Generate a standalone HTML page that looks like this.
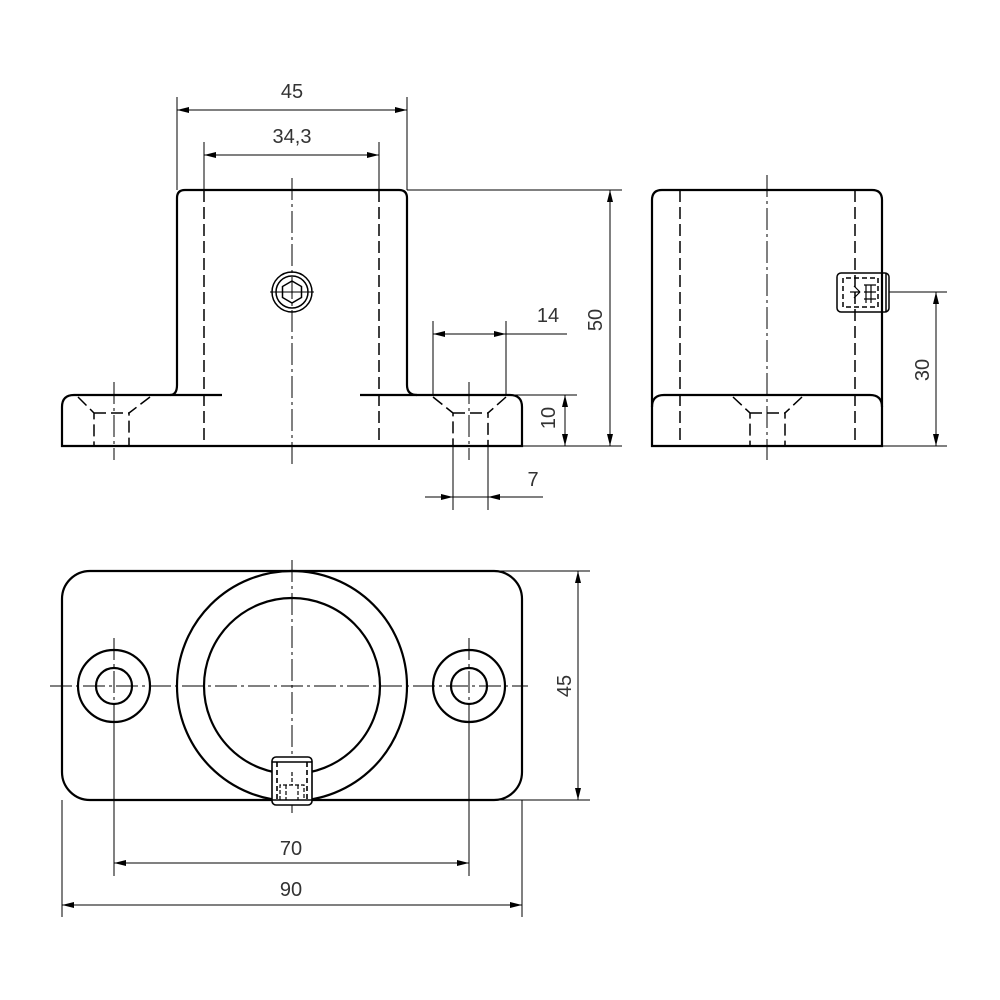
<!DOCTYPE html>
<html><head><meta charset="utf-8"><style>
html,body{margin:0;padding:0;background:#fff}
svg{display:block}
text{font-family:"Liberation Sans",sans-serif;font-size:20px;fill:#333}
</style></head><body>
<svg width="1000" height="1000" viewBox="0 0 1000 1000" xmlns="http://www.w3.org/2000/svg">
<defs>
<marker id="a" viewBox="0 0 12 6" refX="12" refY="3" markerWidth="12" markerHeight="6" orient="auto-start-reverse" markerUnits="userSpaceOnUse"><path d="M0,0 L12,3 L0,6z" fill="#000"/></marker>
</defs>
<g fill="none" stroke="#000">
<g stroke-width="2.2">
<path d="M62,446 V407 Q62,395 74,395 H170 Q177,395 177,385 V198 Q177,190 185,190 H399 Q407,190 407,198 V385 Q407,395 417,395 H510 Q522,395 522,407 V446 Z"/>
<line x1="170" y1="395" x2="222" y2="395"/>
<line x1="360" y1="395" x2="417" y2="395"/>
</g>
<g stroke-width="1.5" stroke-dasharray="12,5">
<line x1="204" y1="190" x2="204" y2="446"/>
<line x1="379" y1="190" x2="379" y2="446"/>
<path d="M78,397 L94,413 V446 M150,397 L129,413 V446 M94,413 H129"/>
<path d="M433,397 L453,413 V446 M506,397 L488,413 V446 M453,413 H488"/>
</g>
<g stroke-width="1" stroke-dasharray="22,4,3,4">
<line x1="292" y1="178" x2="292" y2="465"/>
<line x1="114" y1="382" x2="114" y2="460"/>
<line x1="469" y1="382" x2="469" y2="460"/>
</g>
<g stroke-width="1.5">
<circle cx="292" cy="292" r="20"/><circle cx="292" cy="292" r="16"/>
<path d="M292,281 L301.5,286.5 V297.5 L292,303 L282.5,297.5 V286.5Z"/>
<line x1="270" y1="292" x2="314" y2="292" stroke-width="1"/>
</g>
<g stroke-width="1">
<line x1="177" y1="97" x2="177" y2="190"/><line x1="407" y1="97" x2="407" y2="190"/>
<line x1="177" y1="110" x2="407" y2="110" marker-start="url(#a)" marker-end="url(#a)"/>
<line x1="204" y1="142" x2="204" y2="190"/><line x1="379" y1="142" x2="379" y2="190"/>
<line x1="204" y1="155" x2="379" y2="155" marker-start="url(#a)" marker-end="url(#a)"/>
<line x1="433" y1="321" x2="433" y2="395"/><line x1="506" y1="321" x2="506" y2="395"/>
<line x1="433" y1="334" x2="506" y2="334" marker-start="url(#a)" marker-end="url(#a)"/>
<line x1="506" y1="334" x2="567" y2="334"/>
<line x1="510" y1="395" x2="577" y2="395"/>
<line x1="565" y1="395" x2="565" y2="446" marker-start="url(#a)" marker-end="url(#a)"/>
<line x1="407" y1="190" x2="622" y2="190"/><line x1="522" y1="446" x2="622" y2="446"/>
<line x1="610" y1="190" x2="610" y2="446" marker-start="url(#a)" marker-end="url(#a)"/>
<line x1="453" y1="446" x2="453" y2="510"/><line x1="488" y1="446" x2="488" y2="510"/>
<line x1="425" y1="497" x2="453" y2="497" marker-end="url(#a)"/>
<line x1="543" y1="497" x2="488" y2="497" marker-end="url(#a)"/>
<line x1="453" y1="497" x2="488" y2="497"/>
</g>
<g stroke-width="2.2">
<path d="M652,446 V200 Q652,190 662,190 H872 Q882,190 882,200 V446 Z"/>
<path d="M652,407 Q652,395 664,395 H870 Q882,395 882,407"/>
</g>
<g stroke-width="1.5" stroke-dasharray="12,5">
<line x1="680" y1="190" x2="680" y2="446"/>
<line x1="855" y1="190" x2="855" y2="446"/>
<path d="M733,397 L750,413 V446 M802,397 L785,413 V446 M750,413 H785"/>
</g>
<g stroke-width="1" stroke-dasharray="22,4,3,4"><line x1="767" y1="175" x2="767" y2="460"/></g>
<g stroke-width="1.5">
<rect x="837" y="273" width="52" height="39" rx="4"/>
<line x1="882" y1="273" x2="882" y2="312"/><line x1="886" y1="273" x2="886" y2="312"/>
<path d="M843,278 V307 H878 V278 Z" stroke-dasharray="5,3"/>
<path d="M850,292 H860 M860,292 L854,286 M860,292 L854,298 M864,285 H876 M864,292 H876 M864,299 H876 M866,285 V303 M871,285 V303" stroke-width="1.2"/>
</g>
<g stroke-width="1">
<line x1="889" y1="292" x2="947" y2="292"/><line x1="882" y1="446" x2="947" y2="446"/>
<line x1="936" y1="292" x2="936" y2="446" marker-start="url(#a)" marker-end="url(#a)"/>
</g>
<g stroke-width="2.2">
<rect x="62" y="571" width="460" height="229" rx="28"/>
<circle cx="292" cy="686" r="115"/><circle cx="292" cy="686" r="88"/>
<circle cx="114" cy="686" r="36"/><circle cx="114" cy="686" r="18"/>
<circle cx="469" cy="686" r="36"/><circle cx="469" cy="686" r="18"/>
</g>
<g stroke-width="1" stroke-dasharray="22,4,3,4">
<line x1="50" y1="686" x2="528" y2="686"/>
<line x1="292" y1="560" x2="292" y2="815"/>
<line x1="114" y1="638" x2="114" y2="720"/>
<line x1="469" y1="638" x2="469" y2="720"/>
</g>
<g stroke-width="1.6">
<rect x="272" y="757" width="40" height="48" rx="4" fill="#fff"/>
<line x1="272" y1="762" x2="312" y2="762"/>
<line x1="272" y1="800" x2="312" y2="800"/>
<path d="M277,762 V800 M307,762 V800" stroke-dasharray="5,3"/>
<path d="M280,800 V785 H304 V800 M286,785 V800 M298,785 V800 M292,772 V785" stroke-width="1.2" stroke-dasharray="4,2"/>
</g>
<g stroke-width="1">
<line x1="114" y1="720" x2="114" y2="876"/><line x1="469" y1="720" x2="469" y2="876"/>
<line x1="114" y1="863" x2="469" y2="863" marker-start="url(#a)" marker-end="url(#a)"/>
<line x1="62" y1="800" x2="62" y2="917"/><line x1="522" y1="800" x2="522" y2="917"/>
<line x1="62" y1="905" x2="522" y2="905" marker-start="url(#a)" marker-end="url(#a)"/>
<line x1="490" y1="571" x2="590" y2="571"/><line x1="490" y1="800" x2="590" y2="800"/>
<line x1="578" y1="571" x2="578" y2="800" marker-start="url(#a)" marker-end="url(#a)"/>
</g>
</g>
<text x="292" y="98" text-anchor="middle">45</text>
<text x="292" y="143" text-anchor="middle">34,3</text>
<text x="548" y="322" text-anchor="middle">14</text>
<text x="533" y="486" text-anchor="middle">7</text>
<text transform="translate(555,418) rotate(-90)" text-anchor="middle">10</text>
<text transform="translate(602,320) rotate(-90)" text-anchor="middle">50</text>
<text transform="translate(929,370) rotate(-90)" text-anchor="middle">30</text>
<text transform="translate(571,686) rotate(-90)" text-anchor="middle">45</text>
<text x="291" y="855" text-anchor="middle">70</text>
<text x="291" y="896" text-anchor="middle">90</text>
</svg>
</body></html>
